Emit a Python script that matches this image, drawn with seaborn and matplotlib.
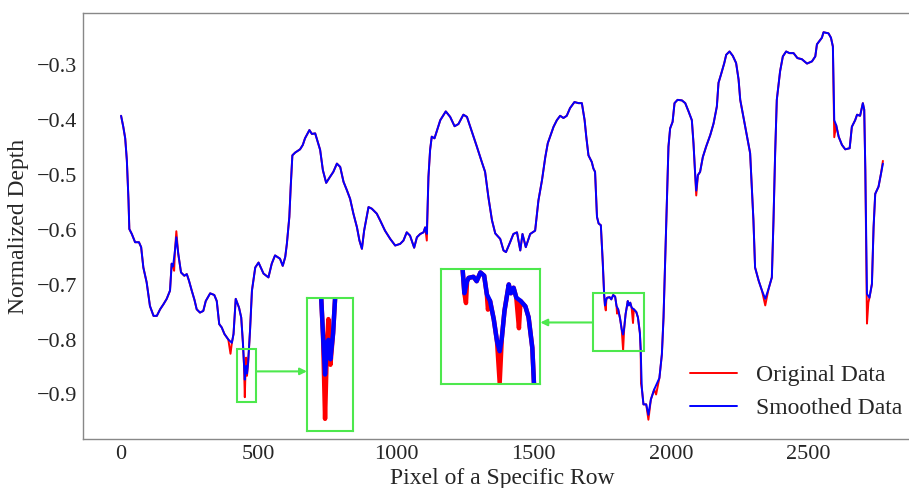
import matplotlib
matplotlib.use('Agg')
import matplotlib.pyplot as plt
from matplotlib.patches import Rectangle
import pandas as pd
import seaborn as sns

# ---- data ----
pixel_x = [0, 8, 15, 21, 27, 30, 39, 51, 65, 73, 81, 93, 105, 118, 130, 142, 154, 166, 178, 184,
           189, 196, 201, 208, 218, 230, 239, 247, 257, 267, 275, 287, 299, 308, 324, 339, 348, 357, 366, 376,
           390, 403, 409, 417, 429, 437, 443, 447, 450, 453, 455, 458, 462, 469, 476, 488, 500, 518, 536, 548,
           560, 578, 588, 597, 603, 612, 617, 623, 633, 651, 661, 669, 685, 694, 706, 724, 734, 746, 760, 772,
           785, 797, 809, 821, 833, 845, 858, 867, 876, 884, 900, 912, 930, 942, 960, 979, 997, 1015, 1027, 1039,
           1051, 1066, 1076, 1088, 1100, 1106, 1112, 1118, 1124, 1130, 1140, 1161, 1181, 1197, 1213, 1227, 1245, 1258, 1276, 1294,
           1312, 1324, 1336, 1349, 1361, 1379, 1391, 1400, 1415, 1427, 1440, 1452, 1460, 1472, 1488, 1506, 1518, 1531, 1543, 1552,
           1573, 1585, 1597, 1609, 1621, 1633, 1649, 1664, 1676, 1686, 1692, 1700, 1712, 1718, 1724, 1731, 1737, 1745, 1752, 1757,
           1760, 1765, 1768, 1777, 1783, 1790, 1797, 1802, 1808, 1815, 1821, 1826, 1830, 1835, 1843, 1847, 1852, 1857, 1865, 1874,
           1880, 1887, 1890, 1894, 1900, 1910, 1918, 1927, 1939, 1958, 1967, 1973, 1979, 1985, 1991, 1997, 2006, 2013, 2024, 2040,
           2052, 2064, 2076, 2082, 2088, 2092, 2098, 2106, 2116, 2128, 2143, 2155, 2167, 2173, 2182, 2194, 2201, 2213, 2225, 2237,
           2246, 2252, 2264, 2276, 2288, 2294, 2300, 2306, 2319, 2331, 2343, 2355, 2367, 2373, 2379, 2385, 2397, 2407, 2419, 2431,
           2446, 2460, 2476, 2495, 2513, 2525, 2531, 2549, 2555, 2573, 2582, 2589, 2594, 2601, 2610, 2622, 2634, 2650, 2658, 2670,
           2677, 2688, 2698, 2703, 2707, 2713, 2722, 2731, 2737, 2743, 2755, 2764, 2771]
smoothed_depth = [-0.393, -0.413, -0.434, -0.474, -0.547, -0.599, -0.608, -0.623, -0.623, -0.632, -0.669, -0.696, -0.739, -0.757, -0.757, -0.745, -0.736, -0.726, -0.711, -0.662,
                  -0.667, -0.638, -0.614, -0.644, -0.678, -0.684, -0.681, -0.693, -0.711, -0.728, -0.745, -0.751, -0.748, -0.730, -0.716, -0.719, -0.730, -0.772, -0.778, -0.790,
                  -0.800, -0.806, -0.790, -0.726, -0.742, -0.760, -0.805, -0.845, -0.873, -0.850, -0.848, -0.862, -0.843, -0.784, -0.711, -0.669, -0.660, -0.680, -0.687, -0.662,
                  -0.647, -0.653, -0.666, -0.650, -0.626, -0.577, -0.522, -0.465, -0.460, -0.454, -0.446, -0.434, -0.419, -0.426, -0.425, -0.455, -0.492, -0.515, -0.504, -0.495,
                  -0.480, -0.486, -0.513, -0.528, -0.544, -0.571, -0.596, -0.620, -0.635, -0.602, -0.559, -0.562, -0.571, -0.583, -0.602, -0.617, -0.629, -0.626, -0.620, -0.605,
                  -0.611, -0.633, -0.614, -0.608, -0.605, -0.596, -0.608, -0.504, -0.455, -0.431, -0.434, -0.401, -0.385, -0.395, -0.412, -0.408, -0.391, -0.395, -0.422, -0.449,
                  -0.477, -0.495, -0.541, -0.583, -0.607, -0.617, -0.638, -0.641, -0.623, -0.608, -0.605, -0.638, -0.608, -0.632, -0.608, -0.602, -0.547, -0.510, -0.468, -0.443,
                  -0.413, -0.401, -0.393, -0.397, -0.393, -0.379, -0.368, -0.370, -0.370, -0.401, -0.431, -0.465, -0.477, -0.489, -0.495, -0.577, -0.589, -0.592, -0.660, -0.718,
                  -0.738, -0.727, -0.724, -0.723, -0.727, -0.719, -0.722, -0.739, -0.745, -0.762, -0.782, -0.791, -0.779, -0.754, -0.730, -0.738, -0.733, -0.742, -0.745, -0.750,
                  -0.760, -0.788, -0.820, -0.888, -0.918, -0.918, -0.937, -0.909, -0.891, -0.870, -0.827, -0.760, -0.656, -0.553, -0.449, -0.416, -0.404, -0.370, -0.364, -0.365,
                  -0.370, -0.385, -0.401, -0.443, -0.498, -0.529, -0.501, -0.495, -0.468, -0.449, -0.428, -0.407, -0.376, -0.333, -0.318, -0.297, -0.282, -0.276, -0.284, -0.297,
                  -0.327, -0.364, -0.396, -0.428, -0.461, -0.522, -0.583, -0.669, -0.693, -0.711, -0.726, -0.708, -0.687, -0.583, -0.461, -0.364, -0.312, -0.285, -0.276, -0.279,
                  -0.279, -0.288, -0.290, -0.298, -0.294, -0.285, -0.263, -0.251, -0.241, -0.243, -0.251, -0.267, -0.401, -0.410, -0.431, -0.446, -0.454, -0.452, -0.413, -0.401,
                  -0.391, -0.393, -0.370, -0.382, -0.492, -0.717, -0.724, -0.699, -0.596, -0.535, -0.522, -0.498, -0.480]
# where the original (unsmoothed) data departs from the smoothed curve
spike_x = [193, 201, 398, 450, 455, 458, 1112, 1763, 1804, 1826, 1862, 1891, 1918, 1946, 2092, 2343, 2594, 2713, 2718, 2771]
spike_depth = [-0.675, -0.603, -0.826, -0.905, -0.833, -0.866, -0.620, -0.747, -0.753, -0.820, -0.770, -0.880,
               -0.946, -0.900, -0.538, -0.738, -0.432, -0.771, -0.733, -0.475]

x_ticks = [0, 500, 1000, 1500, 2000, 2500]
y_ticks = [-0.9, -0.8, -0.7, -0.6, -0.5, -0.4, -0.3]
series_labels = ['Original Data', 'Smoothed Data']
x_label = 'Pixel of a Specific Row'
y_label = 'Normalized Depth'

# zoom boxes: (source x0, x1, y0, y1), (target x0, x1, y0, y1)
zoom1_src = (423, 491, -0.914, -0.818)
zoom1_dst = (676, 842, -0.967, -0.725)
zoom2_src = (1716, 1902, -0.821, -0.716)
zoom2_dst = (1163, 1525, -0.881, -0.672)

# ---- build frames ----
orig = dict(zip(pixel_x, smoothed_depth))
orig.update(zip(spike_x, spike_depth))
orig_x = sorted(orig)
df_orig = pd.DataFrame({'x': orig_x, 'y': [orig[k] for k in orig_x]})
df_smooth = pd.DataFrame({'x': pixel_x, 'y': smoothed_depth})

sns.set_style('white')
plt.rcParams['font.family'] = ['Liberation Serif', 'DejaVu Serif']
plt.rcParams['axes.unicode_minus'] = True

W, H = 909, 488
fig = plt.figure(figsize=(W / 100, H / 100), dpi=100)
ax = fig.add_axes([83 / W, 49 / H, (921 - 83) / W, (439 - 13) / H])

sns.lineplot(data=df_orig, x='x', y='y', ax=ax, color='red', lw=1.4, label=series_labels[0])
sns.lineplot(data=df_smooth, x='x', y='y', ax=ax, color='blue', lw=1.4, label=series_labels[1])

ax.set_xlim(-138.5, 2909.5)
ax.set_ylim(-0.981, -0.206)
ax.set_xticks(x_ticks)
ax.set_yticks(y_ticks)
ax.set_xlabel(x_label, fontsize=17, labelpad=3)
ax.set_ylabel(y_label, fontsize=17, labelpad=6)
ax.tick_params(axis='x', direction='in', length=3, color='#888888', labelsize=16, pad=4)
ax.tick_params(axis='y', length=0, labelsize=16, pad=4)
for s in ax.spines.values():
    s.set_color('#888888')
    s.set_linewidth(1.0)

green = '#4de84d'


def add_zoom(src, dst, y_arrow, left_to_right):
    x0, x1, y0, y1 = src
    ax.add_patch(Rectangle((x0, y0), x1 - x0, y1 - y0, fill=False, ec=green, lw=1.5, zorder=5))
    dx0, dx1, dy0, dy1 = dst
    ins = ax.inset_axes([dx0, dy0, dx1 - dx0, dy1 - dy0], transform=ax.transData)
    sns.lineplot(data=df_orig, x='x', y='y', ax=ins, color='red', lw=3.2)
    sns.lineplot(data=df_smooth, x='x', y='y', ax=ins, color='blue', lw=3.2)
    ins.set_xlim(x0, x1)
    ins.set_ylim(y0, y1)
    ins.set_xticks([])
    ins.set_yticks([])
    ins.set_xlabel('')
    ins.set_ylabel('')
    ins.patch.set_alpha(0)
    for s in ins.spines.values():
        s.set_color(green)
        s.set_linewidth(1.5)
    if left_to_right:
        start, end = (x1, y_arrow), (dx0, y_arrow)
    else:
        start, end = (x0, y_arrow), (dx1, y_arrow)
    ax.annotate('', xy=end, xytext=start,
                arrowprops=dict(arrowstyle='-|>', color=green, lw=1.5,
                                shrinkA=0, shrinkB=0, mutation_scale=10))


add_zoom(zoom1_src, zoom1_dst, -0.858, True)
add_zoom(zoom2_src, zoom2_dst, -0.769, False)

ax.legend(loc='upper left', bbox_to_anchor=(668.6 / W, (H - 343) / H),
          bbox_transform=fig.transFigure, frameon=False, fontsize=17,
          handlelength=2.0, handletextpad=0.8, labelspacing=0.5)

fig.savefig('out.png', dpi=100)
